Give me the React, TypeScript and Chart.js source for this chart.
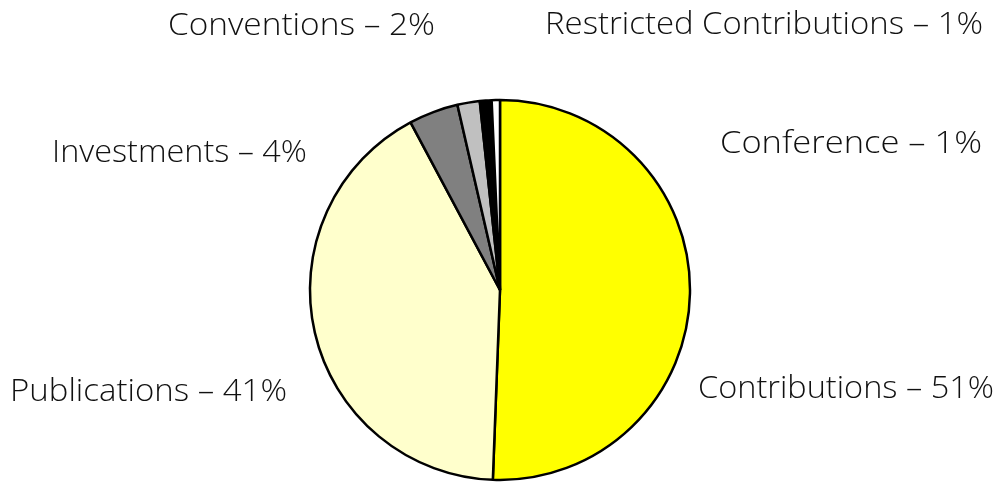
import React, { useEffect, useRef } from "react";
import { Chart, registerables } from "chart.js";

Chart.register(...registerables);

const categories = [
  "Contributions",
  "Publications",
  "Investments",
  "Conventions",
  "Restricted Contributions",
  "Conference",
];
const values = [50.6, 41.6, 4.2, 1.9, 1.0, 0.7];
const percentLabels = ["51%", "41%", "4%", "2%", "1%", "1%"];
const sliceColors = ["#FFFF00", "#FFFFCC", "#808080", "#C0C0C0", "#000000", "#FFFFFF"];

// label layout: [left x, right x, baseline y]
const labelBoxes: [number, number, number][] = [
  [698, 994, 398],
  [10, 287, 401],
  [52, 307, 162],
  [168, 435, 35],
  [545, 983, 34],
  [720, 982, 153],
];

const labelPlugin = {
  id: "sliceLabels",
  afterDraw(chart: any) {
    const ctx = chart.ctx;
    ctx.save();
    ctx.font = '300 31px "Open Sans"';
    ctx.fillStyle = "#111111";
    ctx.textBaseline = "alphabetic";
    ctx.textAlign = "left";
    categories.forEach((c, i) => {
      const text = `${c} \u2013 ${percentLabels[i]}`;
      const [x0, x1, y] = labelBoxes[i];
      const w = ctx.measureText(text).width;
      const s = (x1 - x0) / w;
      ctx.save();
      ctx.translate(x0, y);
      ctx.scale(s, 1);
      ctx.fillText(text, 0, 0);
      ctx.restore();
    });
    ctx.restore();
  },
};

export default function App() {
  const ref = useRef<HTMLCanvasElement | null>(null);
  useEffect(() => {
    document.body.style.margin = "0";
    const canvas = ref.current;
    if (!canvas) return;
    const chart = new Chart(canvas, {
      type: "pie",
      data: {
        labels: categories,
        datasets: [
          {
            data: values,
            backgroundColor: sliceColors,
            borderColor: "#000000",
            borderWidth: 2.5,
          },
        ],
      },
      options: {
        animation: false,
        responsive: false,
        radius: 190,
        layout: { padding: { top: 100, bottom: 2, left: 310, right: 312 } },
        plugins: {
          legend: { display: false },
          tooltip: { enabled: false },
        },
      },
      plugins: [labelPlugin],
    });
    return () => chart.destroy();
  }, []);
  return (
    <div style={{ width: 1002, height: 482, background: "#fff" }}>
      <canvas ref={ref} width={1002} height={482} style={{ display: "block" }} />
    </div>
  );
}
